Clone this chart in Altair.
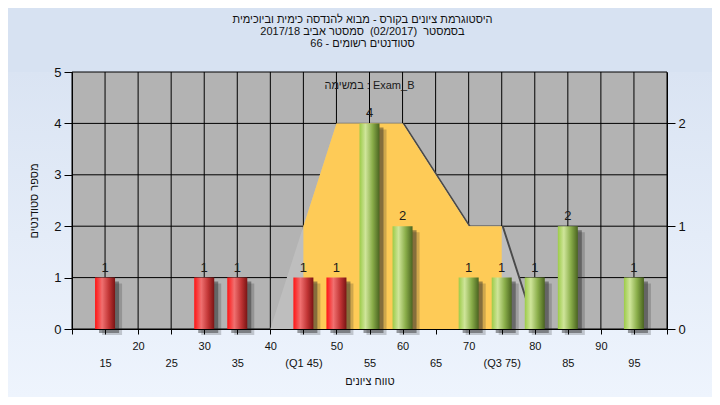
import altair as alt
import pandas as pd

# ---------------- data ----------------
title_lines = [
    "היסטוגרמת ציונים בקורס - מבוא להנדסה כימית וביוכימית",
    "בסמסטר \u00a0(02/2017) \u00a0סמסטר אביב 2017/18",
    "סטודנטים רשומים - 66",
]
legend_text = "במשימה : Exam_B"
x_title = "טווח ציונים"
y_title = "מספר סטודנטים"

bar_scores = [15, 30, 35, 45, 50, 55, 60, 70, 75, 80, 85, 95]
bar_counts = [1, 1, 1, 1, 1, 4, 2, 1, 1, 1, 2, 1]
pass_mark = 55

# distribution outline (right axis units)
area_scores = [40, 45, 50, 60, 70, 75, 80]
area_levels = [0, 1, 2, 2, 1, 1, 0]
# inter-quartile part (Q1..Q3)
iqr_scores = [45, 50, 60, 70, 75]
iqr_levels = [1, 2, 2, 1, 1]

x_tick_values = [10, 15, 20, 25, 30, 35, 40, 45, 50, 55, 60, 65, 70, 75, 80, 85, 90, 95, 100]
x_tick_labels = ["", "15", "20", "25", "30", "35", "40", "(Q1 45)", "50", "55",
                 "60", "65", "70", "(Q3 75)", "80", "85", "90", "95", ""]
x_tick_rows = [1, 2, 1, 2, 1, 2, 1, 2, 1, 2, 1, 2, 1, 2, 1, 2, 1, 2, 1]
grid_x = [15, 20, 25, 30, 35, 40, 45, 50, 55, 60, 65, 70, 75, 80, 85, 90, 95]
grid_y = [1, 2, 3, 4]
y_left_ticks = [0, 1, 2, 3, 4, 5]
y_right_ticks = [0, 1, 2]

FONT = "Liberation Sans"
W, H = 595, 257
PAD = {"left": 64, "top": 64, "right": 45, "bottom": 68}

parts = []
for v, lab, row in zip(x_tick_values, x_tick_labels, x_tick_rows):
    t = f"'{lab}'" if row == 1 else f"['', '{lab}']"
    parts.append((v, t))
label_expr = "''"
for v, t in reversed(parts):
    label_expr = f"datum.value == {v} ? {t} : ({label_expr})"

x_scale = alt.Scale(domain=[10, 100], nice=False, zero=False, padding=0)
y_scale = alt.Scale(domain=[0, 5], nice=False, zero=True)
r_scale = alt.Scale(domain=[0, 2.5], nice=False, zero=True)

x_axis = alt.Axis(
    values=x_tick_values, labelExpr=label_expr, title=x_title,
    grid=False, tickSize=5, tickColor="black", domainColor="black",
    labelFontSize=11, labelLineHeight=17, labelPadding=6, labelColor="#111111",
    labelFont=FONT, labelOverlap=False, labelFlush=False,
    titleFont=FONT, titleFontSize=11, titleFontWeight="normal", titleColor="#111111",
    titlePadding=7, zindex=1,
)
left_axis = alt.Axis(
    orient="left", values=y_left_ticks, grid=False, tickSize=8, tickColor="black",
    domainColor="black", labelFontSize=13, labelFont=FONT, labelColor="#111111",
    labelPadding=3, title=y_title, titleFont=FONT, titleFontSize=11,
    titleFontWeight="normal", titleColor="#111111", titlePadding=14, zindex=1,
)
right_axis = alt.Axis(
    orient="right", values=y_right_ticks, grid=False, tickSize=8, tickColor="black",
    domainColor="black", labelFontSize=13, labelFont=FONT, labelColor="#111111",
    labelPadding=3, title=None, zindex=1,
)

one = pd.DataFrame({"a": [1]})
bars_df = pd.DataFrame({"score": bar_scores, "count": bar_counts})
area_df = pd.DataFrame({"score": area_scores, "level": area_levels})
iqr_df = pd.DataFrame({"score": iqr_scores, "level": iqr_levels})

X = alt.X("score:Q", scale=x_scale, axis=x_axis)

bg_grad = alt.Gradient(
    gradient="linear", x1=0, x2=0, y1=0, y2=1,
    stops=[alt.GradientStop(color="#DAE4F3", offset=0),
           alt.GradientStop(color="#EEF4FD", offset=1)],
)
red_grad = alt.Gradient(
    gradient="linear", x1=0, x2=1, y1=0, y2=0,
    stops=[alt.GradientStop(color="#FF1414", offset=0),
           alt.GradientStop(color="#F07070", offset=0.35),
           alt.GradientStop(color="#C03434", offset=0.7),
           alt.GradientStop(color="#7A1414", offset=1)],
)
green_grad = alt.Gradient(
    gradient="linear", x1=0, x2=1, y1=0, y2=0,
    stops=[alt.GradientStop(color="#9CCB48", offset=0),
           alt.GradientStop(color="#CFE59A", offset=0.3),
           alt.GradientStop(color="#8AAE4A", offset=0.65),
           alt.GradientStop(color="#4A6420", offset=1)],
)

# lower page background (starts at plot top so the title keeps its place)
bg = alt.Chart(one).mark_rect(fill=bg_grad).encode(
    x=alt.value(-PAD["left"]), x2=alt.value(W + PAD["right"]),
    y=alt.value(0), y2=alt.value(H + PAD["bottom"]),
)
plot_bg = alt.Chart(one).mark_rect(fill="#B3B3B3", stroke="black", strokeWidth=1).encode(
    x=alt.value(0), x2=alt.value(W), y=alt.value(0), y2=alt.value(H),
)
vgrid = alt.Chart(pd.DataFrame({"score": grid_x})).mark_rule(color="black", strokeWidth=1).encode(x=X)
hgrid = alt.Chart(pd.DataFrame({"count": grid_y})).mark_rule(color="black", strokeWidth=1).encode(
    y=alt.Y("count:Q", scale=y_scale, axis=None)
)

area_shadow = alt.Chart(area_df).mark_area(color="#4A4A4A", xOffset=2, x2Offset=2).encode(
    x=X, y=alt.Y("level:Q", scale=r_scale, axis=None)
)
gray_area = alt.Chart(area_df).mark_area(color="#BEBEBE").encode(
    x=X, y=alt.Y("level:Q", scale=r_scale, axis=right_axis)
)
yellow_area = alt.Chart(iqr_df).mark_area(color="#FECB57").encode(
    x=X, y=alt.Y("level:Q", scale=r_scale, axis=None)
)

Yb = alt.Y("count:Q", scale=y_scale, axis=None)
shadow2 = alt.Chart(bars_df).mark_bar(size=20, color="#2A2A2A", opacity=0.22,
                                      xOffset=7, yOffset=6, y2Offset=5).encode(x=X, y=Yb)
shadow1 = alt.Chart(bars_df).mark_bar(size=20, color="#2A2A2A", opacity=0.45,
                                      xOffset=4, yOffset=4, y2Offset=3).encode(x=X, y=Yb)
red_bars = alt.Chart(bars_df).transform_filter(alt.datum.score < pass_mark).mark_bar(
    size=20, fill=red_grad).encode(x=X, y=alt.Y("count:Q", scale=y_scale, axis=left_axis))
green_bars = alt.Chart(bars_df).transform_filter(alt.datum.score >= pass_mark).mark_bar(
    size=20, fill=green_grad).encode(x=X, y=Yb)
labels = alt.Chart(bars_df).mark_text(
    dy=-6, baseline="alphabetic", fontSize=13, font=FONT, color="#1A1A1A"
).encode(x=X, y=Yb, text="count:Q")
legend = alt.Chart(one).mark_text(
    text=legend_text, fontSize=11, font=FONT, color="#1A1A1A", baseline="middle"
).encode(x=alt.value(W / 2), y=alt.value(14))

chart = alt.layer(
    bg, plot_bg, vgrid, hgrid, area_shadow, gray_area, yellow_area,
    shadow2, shadow1, red_bars, green_bars, labels, legend,
).resolve_scale(y="independent").properties(
    width=W, height=H, padding=PAD,
    autosize=alt.AutoSizeParams(type="none"),
    background="#D7E2F2",
    title=alt.TitleParams(
        text=title_lines, font=FONT, fontSize=11, frame="group",
        fontWeight="normal", color="#111111", anchor="middle", lineHeight=12,
        offset=17, dx=-7,
    ),
).configure_view(stroke=None)

chart.save("out.html", embed_options={"renderer": "svg", "actions": False})
